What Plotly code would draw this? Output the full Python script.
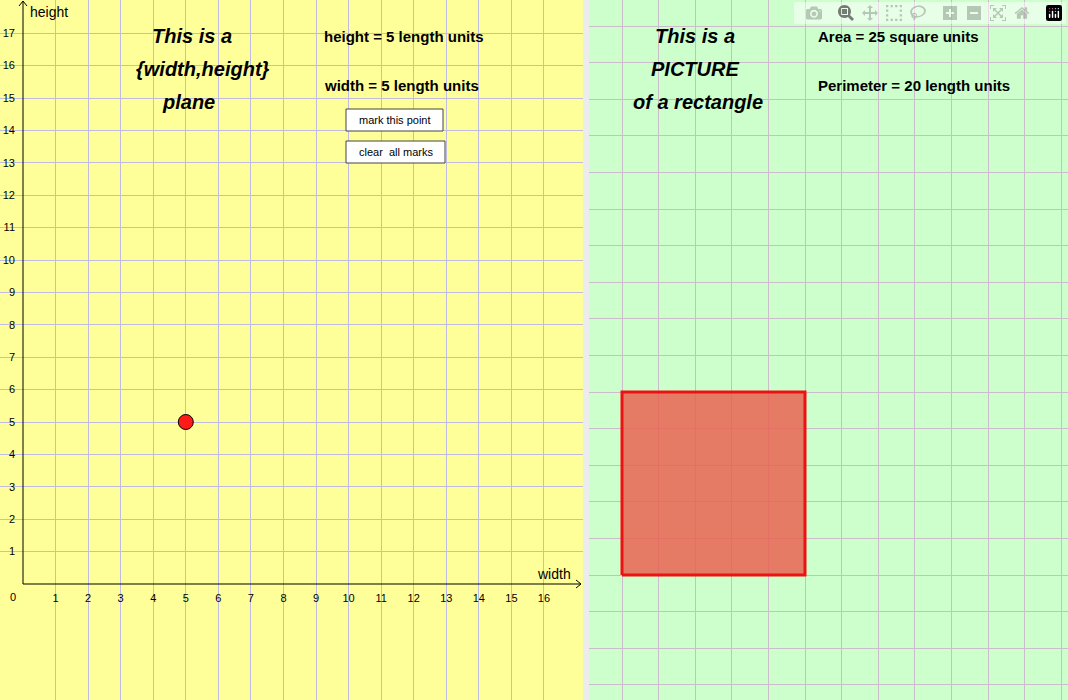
import plotly.graph_objects as go

W, H = 1068, 700
x_ticks = list(range(1, 17))
y_ticks = list(range(1, 18))
rect_width = 5
rect_height = 5
area = rect_width * rect_height
perimeter = 2 * (rect_width + rect_height)

def px(x): return x / W
def py(y): return 1 - y / H

fig = go.Figure()
fig.add_trace(go.Scatter(x=[rect_width], y=[rect_height], mode="markers",
    marker=dict(size=15, color="#ff1a1a", line=dict(color="black", width=1)),
    xaxis="x", yaxis="y", showlegend=False, hoverinfo="skip"))
fig.add_trace(go.Scatter(x=[0, rect_width, rect_width, 0, 0], y=[0, 0, rect_height, rect_height, 0],
    mode="lines", fill="toself", fillcolor="rgba(235,90,75,0.8)",
    line=dict(color="#ee1111", width=3), xaxis="x2", yaxis="y2", showlegend=False, hoverinfo="skip"))

ux = 32.56; uy = 32.4
ox, oy = 23, 584
ux2 = 36.6
ox2, oy2 = 622, 575
grid1 = "#c0bce0"
grid2 = "#cbbccb"
tf = dict(family="Liberation Sans", size=11, color="black")
fig.update_layout(
    width=W, height=H, margin=dict(l=0, r=0, t=0, b=0),
    paper_bgcolor="white", plot_bgcolor="rgba(0,0,0,0)",
    xaxis=dict(domain=[0, px(583)], range=[-ox/ux, (583-ox)/ux], tickvals=x_ticks,
        showgrid=True, gridcolor=grid1, gridwidth=1, zeroline=False, anchor="free", position=py(oy),
        ticks="", ticklabelstandoff=6, tickfont=tf, fixedrange=True),
    yaxis=dict(domain=[0, 1], range=[-(H-oy)/uy, oy/uy], tickvals=y_ticks,
        showgrid=True, gridcolor=grid1, gridwidth=1, zeroline=False, anchor="free", position=px(ox),
        ticks="", ticklabelstandoff=8, tickfont=tf, fixedrange=True),
    xaxis2=dict(domain=[px(589), 1], range=[(589-ox2)/ux2, (W-ox2)/ux2], dtick=1,
        showgrid=True, gridcolor=grid2, zeroline=False, showticklabels=False, anchor="y2"),
    yaxis2=dict(domain=[0, 1], range=[-(H-oy2)/ux2, oy2/ux2], dtick=1,
        showgrid=True, gridcolor=grid2, zeroline=False, showticklabels=False, anchor="x2"),
)

L = dict(color="black", width=1)
shapes = [
    dict(type="rect", xref="paper", yref="paper", x0=0, x1=px(583), y0=0, y1=1,
         fillcolor="#ffff99", line_width=0, layer="below"),
    dict(type="rect", xref="paper", yref="paper", x0=px(583), x1=px(589), y0=0, y1=1,
         fillcolor="#ececec", line_width=0, layer="below"),
    dict(type="rect", xref="paper", yref="paper", x0=px(589), x1=1, y0=0, y1=1,
         fillcolor="#ccffcc", line_width=0, layer="below"),
    dict(type="line", xref="paper", yref="paper", x0=px(ox), x1=px(ox), y0=py(oy), y1=py(1), line=L),
    dict(type="line", xref="paper", yref="paper", x0=px(ox), x1=px(581), y0=py(oy), y1=py(oy), line=L),
    dict(type="line", xref="paper", yref="paper", x0=px(ox-4), x1=px(ox), y0=py(6), y1=py(1), line=L),
    dict(type="line", xref="paper", yref="paper", x0=px(ox+4), x1=px(ox), y0=py(6), y1=py(1), line=L),
    dict(type="line", xref="paper", yref="paper", x0=px(576), x1=px(581), y0=py(oy-4), y1=py(oy), line=L),
    dict(type="line", xref="paper", yref="paper", x0=px(576), x1=px(581), y0=py(oy+4), y1=py(oy), line=L),
    dict(type="rect", xref="paper", yref="paper", x0=px(346), x1=px(443), y0=py(131), y1=py(109),
         fillcolor="white", line=dict(color="#444", width=1)),
    dict(type="rect", xref="paper", yref="paper", x0=px(346), x1=px(445), y0=py(163), y1=py(141),
         fillcolor="white", line=dict(color="#444", width=1)),
]
fig.update_layout(shapes=shapes)

F = "Liberation Sans"
def ann(text, x, y, size, xanchor="center", bold=False, italic=False):
    t = text
    if bold: t = "<b>" + t + "</b>"
    if italic: t = "<i>" + t + "</i>"
    fig.add_annotation(text=t, x=px(x), y=py(y), xref="paper", yref="paper", showarrow=False,
        xanchor=xanchor, yanchor="middle", font=dict(family=F, size=size, color="black"))

ann("This is a", 192, 36, 20, bold=True, italic=True)
ann("{width,height}", 203, 69, 20, bold=True, italic=True)
ann("plane", 188, 102, 20, bold=True, italic=True)
ann(f"height = {rect_height} length units", 322, 37, 15, "left", bold=True)
ann(f"width = {rect_width} length units", 322, 85, 15, "left", bold=True)
ann("mark this point", 395, 120, 11)
ann("clear  all marks", 396, 152, 11)
ann("This is a", 695, 36, 20, bold=True, italic=True)
ann("PICTURE", 695, 69, 20, bold=True, italic=True)
ann("of a rectangle", 698, 102, 20, bold=True, italic=True)
ann(f"Area = {area} square units", 816, 37, 15, "left", bold=True)
ann(f"Perimeter = {perimeter} length units", 816, 85, 15, "left", bold=True)
ann("height", 28, 12, 14, "left")
ann("width", 535, 574, 14, "left")
ann("0", 13, 597, 11)

fig.write_html("out.html", post_script="document.body.style.margin='0';")
